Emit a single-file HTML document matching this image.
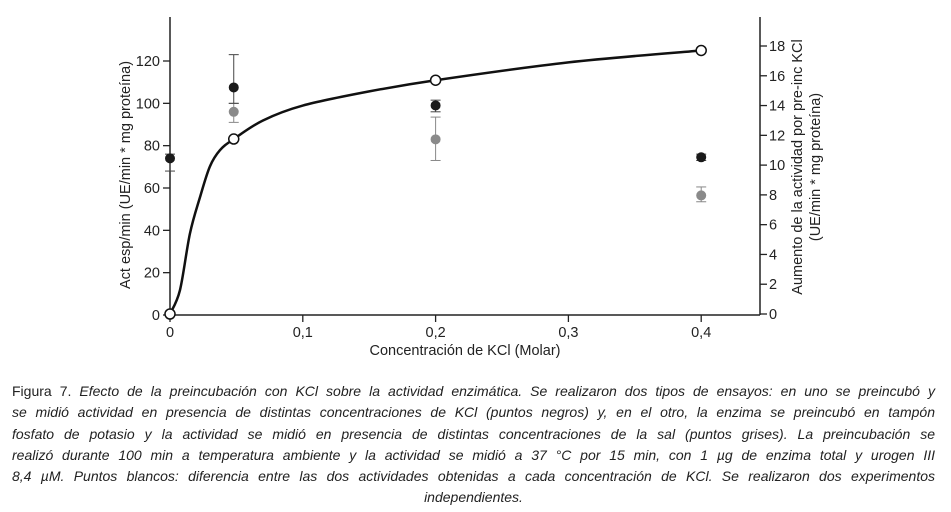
<!DOCTYPE html>
<html><head><meta charset="utf-8">
<style>
body{margin:0;background:#fff;width:951px;height:512px;overflow:hidden;font-family:"Liberation Sans",sans-serif;}
#cap{position:absolute;left:12px;top:381px;width:923px;font-size:14px;color:#222;line-height:21.3px;}
#cap div{text-align:justify;text-align-last:justify;white-space:nowrap;}
#cap div.last{text-align:center;text-align-last:center;}
i{font-style:italic;}
</style></head><body>
<svg id="chart" width="951" height="380" style="position:absolute;left:0;top:0" font-family="Liberation Sans, sans-serif"></svg>
<div id="cap">
<div>Figura 7. <i>Efecto de la preincubación con KCl sobre la actividad enzimática. Se realizaron dos tipos de ensayos: en uno se preincubó y</i></div>
<div><i>se midió actividad en presencia de distintas concentraciones de KCl (puntos negros) y, en el otro, la enzima se preincubó en tampón</i></div>
<div><i>fosfato de potasio y la actividad se midió en presencia de distintas concentraciones de la sal (puntos grises). La preincubación se</i></div>
<div><i>realizó durante 100 min a temperatura ambiente y la actividad se midió a 37 °C por 15 min, con 1 µg de enzima total y urogen III</i></div>
<div><i>8,4 µM. Puntos blancos: diferencia entre las dos actividades obtenidas a cada concentración de KCl. Se realizaron dos experimentos</i></div>
<div class="last"><i>independientes.</i></div>
</div>
<script>
const xTicks=[0,0.1,0.2,0.3,0.4];
const xTickLabels=["0","0,1","0,2","0,3","0,4"];
const yLeftTicks=[0,20,40,60,80,100,120];
const yRightTicks=[0,2,4,6,8,10,12,14,16,18];
const blackX=[0,0.048,0.2,0.4];
const blackY=[74,107.5,99,74.5];
const blackLo=[68,100,96,73];
const blackHi=[76,123,101.5,76];
const grayX=[0.048,0.2,0.4];
const grayY=[96,83,56.5];
const grayLo=[91,73,53.5];
const grayHi=[100,93.5,60.5];
const whiteX=[0,0.048,0.2,0.4];
const whiteY=[0,11.75,15.7,17.7];
const curveX=[0,0.0075,0.015,0.0226,0.030,0.0376,0.048,0.07,0.1,0.15,0.2,0.3,0.4];
const curveY=[0,1.6,5.4,7.85,9.9,11.0,11.75,13.0,14.0,14.95,15.7,16.9,17.7];

const NS="http://www.w3.org/2000/svg";
const svg=document.getElementById('chart');
const X=v=>170+v*1328;
const YL=v=>315-v*(254/120);
const YR=v=>314-v*(268/18);
function mk(t,a,p){const e=document.createElementNS(NS,t);for(const k in a)e.setAttribute(k,a[k]);(p||svg).appendChild(e);return e;}
function txt(s,a){const e=mk('text',a);e.textContent=s;return e;}
let e;
e=mk('line',{x1:170,y1:17,x2:170,y2:315,stroke:'#222','stroke-width':1.5});

e=mk('line',{x1:760,y1:17,x2:760,y2:315,stroke:'#222','stroke-width':1.5});

e=mk('line',{x1:170,y1:315,x2:760,y2:315,stroke:'#222','stroke-width':1.5});

xTicks.forEach((v,i)=>{
  mk('line',{x1:X(v),y1:315,x2:X(v),y2:322,stroke:'#222','stroke-width':1.3});
  e=txt(xTickLabels[i],{x:X(v),y:337,'text-anchor':'middle','font-size':14.5,fill:'#222'});
  
});
yLeftTicks.forEach(v=>{
  mk('line',{x1:163,y1:YL(v),x2:170,y2:YL(v),stroke:'#222','stroke-width':1.3});
  e=txt(String(v),{x:160,y:YL(v)+5,'text-anchor':'end','font-size':14.5,fill:'#222'});
  
});
yRightTicks.forEach(v=>{
  mk('line',{x1:760,y1:YR(v),x2:767,y2:YR(v),stroke:'#222','stroke-width':1.3});
  e=txt(String(v),{x:769,y:YR(v)+5,'font-size':14.5,fill:'#222'});
  
});
e=txt('Concentración de KCl (Molar)',{x:465,y:355,'text-anchor':'middle','font-size':14.5,fill:'#222'});

e=txt('Act esp/min (UE/min * mg proteína)',{x:0,y:0,'text-anchor':'middle','font-size':14.5,fill:'#222',transform:'translate(130,175) rotate(-90)'});

e=txt('Aumento de la actividad por pre-inc KCl',{x:0,y:0,'text-anchor':'middle','font-size':14.5,fill:'#222',transform:'translate(802,167) rotate(-90)'});

e=txt('(UE/min * mg proteína)',{x:0,y:0,'text-anchor':'middle','font-size':14.5,fill:'#222',transform:'translate(820,167) rotate(-90)'});

function errs(xs,lo,hi,col){xs.forEach((x,i)=>{
  const cx=X(x);
  mk('line',{x1:cx,y1:YL(lo[i]),x2:cx,y2:YL(hi[i]),stroke:col,'stroke-width':1});
  mk('line',{x1:cx-5,y1:YL(lo[i]),x2:cx+5,y2:YL(lo[i]),stroke:col,'stroke-width':1});
  mk('line',{x1:cx-5,y1:YL(hi[i]),x2:cx+5,y2:YL(hi[i]),stroke:col,'stroke-width':1});
});}
errs(grayX,grayLo,grayHi,'#888');
errs(blackX,blackLo,blackHi,'#444');
grayX.forEach((x,i)=>{e=mk('circle',{cx:X(x),cy:YL(grayY[i]),r:5,fill:'#8a8a8a'});
  });
blackX.forEach((x,i)=>{e=mk('circle',{cx:X(x),cy:YL(blackY[i]),r:5,fill:'#1a1a1a'});
  });
const pts=curveX.map((x,i)=>[X(x),YR(curveY[i])]);
let d='M'+pts[0][0]+','+pts[0][1];
for(let i=0;i<pts.length-1;i++){
  const p0=pts[Math.max(0,i-1)],p1=pts[i],p2=pts[i+1],p3=pts[Math.min(pts.length-1,i+2)];
  const c1=[p1[0]+(p2[0]-p0[0])/6,p1[1]+(p2[1]-p0[1])/6];
  const c2=[p2[0]-(p3[0]-p1[0])/6,p2[1]-(p3[1]-p1[1])/6];
  d+=`C${c1[0]},${c1[1]} ${c2[0]},${c2[1]} ${p2[0]},${p2[1]}`;
}
e=mk('path',{d:d,fill:'none',stroke:'#111','stroke-width':2.5});

whiteX.forEach((x,i)=>{e=mk('circle',{cx:X(x),cy:YR(whiteY[i]),r:5,fill:'#fff',stroke:'#111','stroke-width':1.5});
  });
</script>
</body></html>
